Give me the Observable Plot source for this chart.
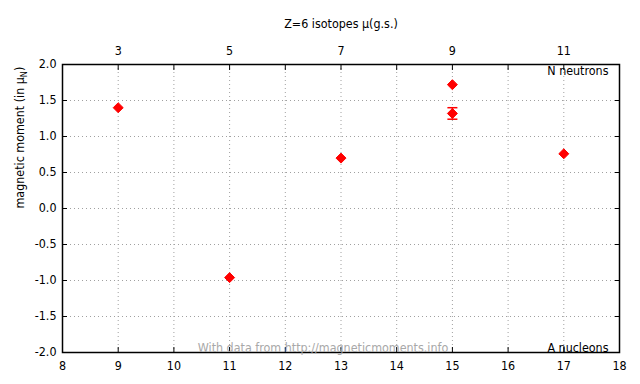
<!DOCTYPE html>
<html>
<head>
<meta charset="utf-8">
<script src="https://cdn.jsdelivr.net/npm/d3@7"></script>
<script src="https://cdn.jsdelivr.net/npm/@observablehq/plot@0.6"></script>
<style>
  html, body { margin: 0; padding: 0; background: #fff; }
  #chart svg { display: block; }
</style>
</head>
<body>
<div id="chart"></div>
<script>
// Data: carbon (Z=6) isotopes, ground-state magnetic moments
const Z = 6;
const massNumbers = [9, 11, 13, 15, 15, 17];
const moments = [1.40, -0.96, 0.70, 1.72, 1.32, 0.76];
const momentErrors = [0, 0, 0, 0, 0.08, 0];
const xTicks = [8, 9, 10, 11, 12, 13, 14, 15, 16, 17, 18];
const xGrid = [9, 10, 11, 12, 13, 14, 15, 16, 17];
const yTicks = [-2, -1.5, -1, -0.5, 0, 0.5, 1, 1.5, 2];
const yGrid = [-1.5, -1, -0.5, 0, 0.5, 1, 1.5];
const neutronLabels = [3, 5, 7, 9, 11];
const titleText = "Z=6 isotopes \u03bc(g.s.)";
const yLabelText = "magnetic moment (in \u03bcN)";
const watermark = "With data from http://magneticmoments.info";

const points = massNumbers.map((a, i) => ({A: a, mu: moments[i], err: momentErrors[i]}));
const errPoints = points.filter(d => d.err > 0);
const topTicks = neutronLabels.map(n => n + Z);

const capSymbol = {draw(ctx) { ctx.moveTo(-5, 0); ctx.lineTo(5, 0); }};
const font = "'DejaVu Sans Condensed', 'DejaVu Sans', sans-serif";
const fs = 12.4;
const noLabel = () => "";

const chart = Plot.plot({
  width: 640,
  height: 384,
  marginLeft: 62,
  marginRight: 21,
  marginTop: 64,
  marginBottom: 32,
  style: {fontFamily: font, fontSize: fs + "px", color: "#000", background: "#fff"},
  x: {domain: [8, 18]},
  y: {domain: [-2, 2]},
  marks: [
    Plot.ruleX(xGrid, {stroke: "#a0a0a0", strokeDasharray: "1,3", strokeWidth: 1}),
    Plot.ruleY(yGrid, {stroke: "#a0a0a0", strokeDasharray: "1,3", strokeWidth: 1}),
    // tick labels
    Plot.axisX({anchor: "bottom", ticks: xTicks, tickSize: 0, tickPadding: 9, tickFormat: d => String(d), label: null, fontSize: fs}),
    Plot.axisX({anchor: "top", ticks: topTicks, tickSize: 0, tickPadding: 10, tickFormat: d => String(d - Z), label: null, fontSize: fs}),
    Plot.axisY({anchor: "left", ticks: yTicks, tickSize: 0, tickPadding: 6, tickFormat: d => d.toFixed(1), label: null, fontSize: fs}),
    // inward tick marks
    Plot.axisX({anchor: "bottom", ticks: xTicks, tickSize: -5, tickFormat: noLabel, label: null}),
    Plot.axisX({anchor: "top", ticks: xTicks, tickSize: -5, tickFormat: noLabel, label: null}),
    Plot.axisY({anchor: "left", ticks: yTicks, tickSize: -5, tickFormat: noLabel, label: null}),
    Plot.axisY({anchor: "right", ticks: yTicks, tickSize: -5, tickFormat: noLabel, label: null}),
    Plot.frame({stroke: "#000", strokeWidth: 1.5}),
    // texts
    Plot.text([titleText], {frameAnchor: "top", dy: -37, lineAnchor: "bottom", text: d => d, fontSize: fs}),
    Plot.text([yLabelText], {frameAnchor: "left", dx: -42, rotate: -90, text: d => d, fontSize: fs, className: "ylab"}),
    Plot.text(["N neutrons"], {frameAnchor: "top-right", dx: -11, dy: 2, textAnchor: "end", lineAnchor: "top", text: d => d, fontSize: fs}),
    Plot.text(["A nucleons"], {frameAnchor: "bottom-right", dx: -11, dy: -1, textAnchor: "end", lineAnchor: "bottom", text: d => d, fontSize: fs}),
    Plot.text([watermark], {frameAnchor: "bottom", dx: -18, dy: -1, lineAnchor: "bottom", text: d => d, fontSize: fs, fill: "#a8a8a8"}),
    // data
    Plot.ruleX(errPoints, {x: "A", y1: d => d.mu - d.err, y2: d => d.mu + d.err, stroke: "red", strokeWidth: 1.5}),
    Plot.dot(errPoints, {x: "A", y: d => d.mu - d.err, symbol: capSymbol, stroke: "red", strokeWidth: 1.5}),
    Plot.dot(errPoints, {x: "A", y: d => d.mu + d.err, symbol: capSymbol, stroke: "red", strokeWidth: 1.5}),
    Plot.dot(points, {x: "A", y: "mu", symbol: "diamond2", r: 4.5, fill: "red", stroke: "red", strokeWidth: 1})
  ]
});

document.getElementById("chart").appendChild(chart);

// subscript N in the y-axis label
d3.select(chart).selectAll("g.ylab text").each(function() {
  const t = d3.select(this);
  t.text(null);
  t.append("tspan").text("magnetic moment (in \u03bc");
  t.append("tspan").attr("font-size", "9px").attr("dy", "3").text("N");
  t.append("tspan").attr("dy", "-3").text(")");
});
</script>
</body>
</html>
